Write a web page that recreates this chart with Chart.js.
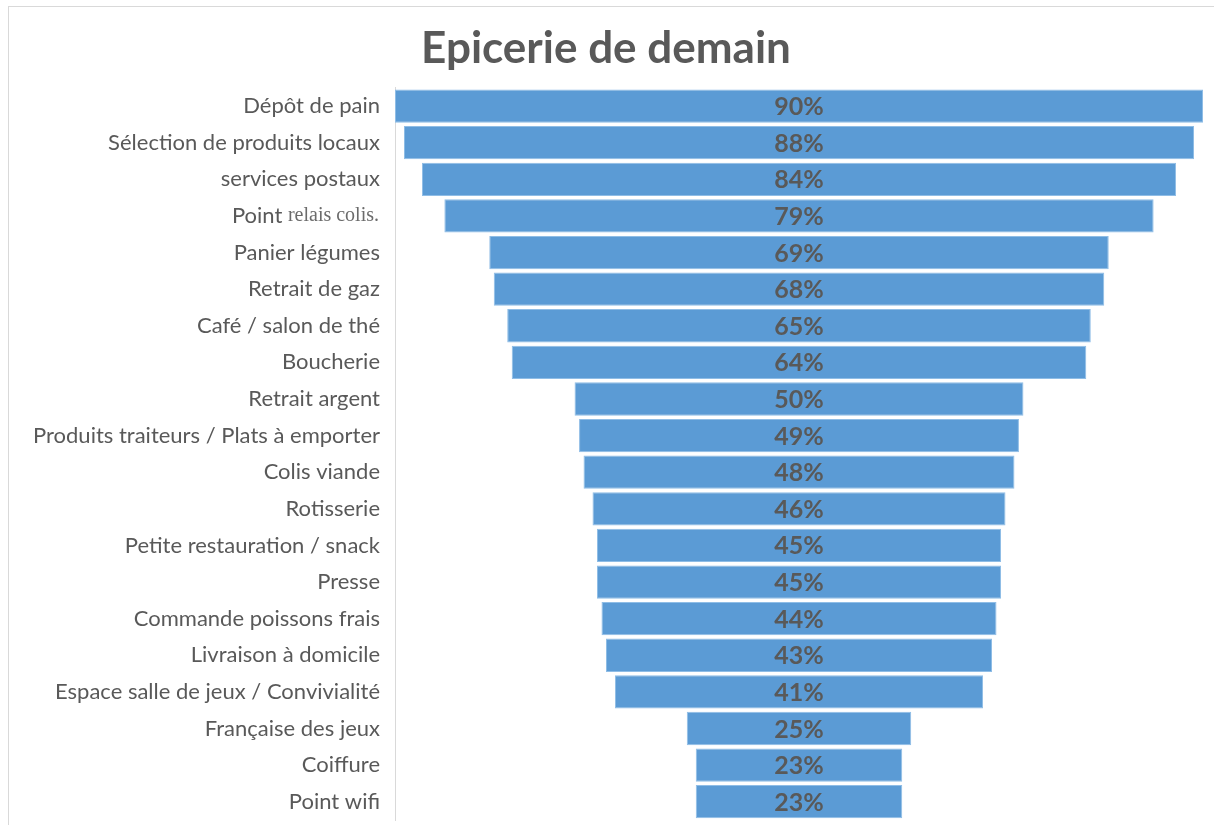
<!DOCTYPE html>
<html>
<head>
<meta charset="utf-8">
<script src="https://cdn.jsdelivr.net/npm/chart.js@4/dist/chart.umd.min.js"></script>
<style>
  html, body { margin: 0; padding: 0; background: #fff; overflow: hidden; }
  #wrap { position: absolute; left: 8px; top: 6px; width: 1206px; height: 819px;
          border-top: 1px solid #d9d9d9; border-left: 1px solid #d9d9d9; }
  canvas { display: block; }
</style>
</head>
<body>
<div id="wrap"><canvas id="c" width="1205" height="818"></canvas></div>
<script>
const chartTitle = "Epicerie de demain";
const categories = [
  "Dépôt de pain",
  "Sélection de produits locaux",
  "services postaux",
  "Point relais colis.",
  "Panier légumes",
  "Retrait de gaz",
  "Café / salon de thé",
  "Boucherie",
  "Retrait argent",
  "Produits traiteurs / Plats à emporter",
  "Colis viande",
  "Rotisserie",
  "Petite restauration / snack",
  "Presse",
  "Commande poissons frais",
  "Livraison à domicile",
  "Espace salle de jeux / Convivialité",
  "Française des jeux",
  "Coiffure",
  "Point wifi"
];
const percentages = [90, 88, 84, 79, 69, 68, 65, 64, 50, 49, 48, 46, 45, 45, 44, 43, 41, 25, 23, 23];

const GRAY = "#595959";
const mixedIdx = categories.indexOf("Point relais colis.");

const valueLabels = {
  id: "valueLabels",
  afterDatasetsDraw(chart) {
    const ctx = chart.ctx;
    const meta = chart.getDatasetMeta(0);
    ctx.save();
    ctx.font = "bold 25px Lato";
    ctx.fillStyle = GRAY;
    ctx.textAlign = "center";
    ctx.textBaseline = "middle";
    meta.data.forEach((bar, i) => {
      const x = chart.scales.x.getPixelForValue(0);
      ctx.fillText(percentages[i] + "%", x, bar.y + 1);
    });
    ctx.restore();
  }
};

const mixedLabel = {
  id: "mixedLabel",
  afterDraw(chart) {
    if (mixedIdx < 0) return;
    const ys = chart.scales.y;
    const ctx = chart.ctx;
    const y = ys.getPixelForTick(mixedIdx);
    const right = ys.right - 16;
    ctx.save();
    ctx.textBaseline = "middle";
    ctx.textAlign = "left";
    ctx.font = "20px 'Liberation Serif'";
    const serifPart = "relais colis.";
    const w2 = ctx.measureText(serifPart).width;
    ctx.fillStyle = "#6b6b6b";
    ctx.fillText(serifPart, right - w2, y);
    ctx.font = "22px Lato";
    const sansPart = "Point ";
    const w1 = ctx.measureText(sansPart).width;
    ctx.fillStyle = GRAY;
    ctx.fillText(sansPart, right - w2 - w1, y);
    ctx.restore();
  }
};

new Chart(document.getElementById("c"), {
  type: "bar",
  data: {
    labels: categories,
    datasets: [{
      data: percentages.map(v => [-v / 2, v / 2]),
      backgroundColor: "#5B9BD5",
      borderColor: "#8fbde6",
      borderWidth: 1,
      borderSkipped: false,
      barPercentage: 0.91,
      categoryPercentage: 1
    }]
  },
  options: {
    indexAxis: "y",
    responsive: false,
    animation: false,
    layout: { padding: { left: 0, right: 11, top: 0, bottom: 5 } },
    plugins: {
      legend: { display: false },
      tooltip: { enabled: false },
      title: {
        display: true,
        text: chartTitle,
        color: GRAY,
        font: { family: "Lato", size: 44, weight: "bold" },
        padding: { top: 15, bottom: 13 }
      }
    },
    scales: {
      x: { display: false, min: -45, max: 45 },
      y: {
        grid: { display: false },
        border: { display: true, color: "#d9d9d9", width: 1 },
        ticks: {
          padding: 7,
          color: (c) => c.index === mixedIdx ? "rgba(0,0,0,0)" : GRAY,
          font: { family: "Lato", size: 22 }
        },
        afterFit(scale) {
          scale.width = 386;
          scale.paddingTop = 0;
          scale.paddingBottom = 0;
        }
      }
    }
  },
  plugins: [valueLabels, mixedLabel]
});
</script>
</body>
</html>
